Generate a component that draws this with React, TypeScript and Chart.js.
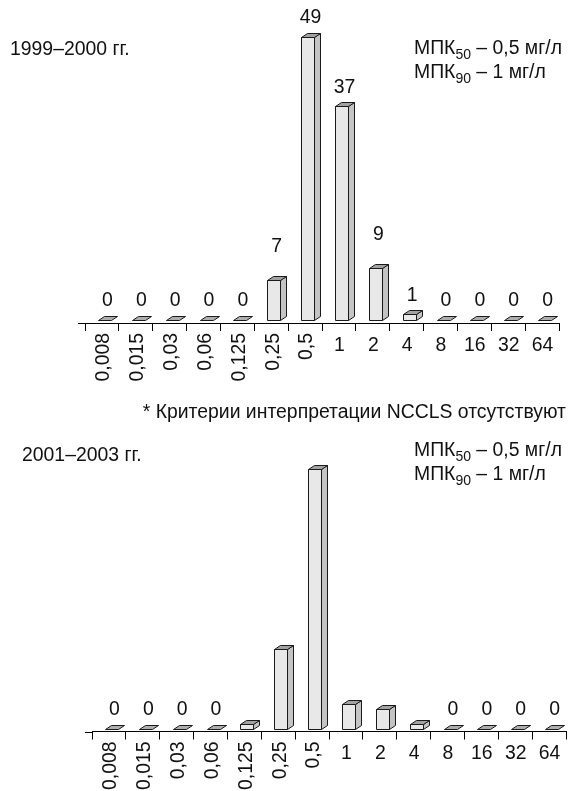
import React, { useEffect, useRef } from 'react';
import { Chart, registerables } from 'chart.js';

Chart.register(...registerables);

// ---- data ----
const categories = ['0,008', '0,015', '0,03', '0,06', '0,125', '0,25', '0,5', '1', '2', '4', '8', '16', '32', '64'];
const values1999 = [0, 0, 0, 0, 0, 7, 49, 37, 9, 1, 0, 0, 0, 0];
const values2001 = [0, 0, 0, 0, 1, 16, 52, 5, 4, 1, 0, 0, 0, 0];

const title1999 = '1999–2000 гг.';
const title2001 = '2001–2003 гг.';
const mic50Text = ' – 0,5 мг/л';
const mic90Text = ' – 1 мг/л';
const footnote = '* Критерии интерпретации NCCLS отсутствуют';

// ---- style ----
const FONT = '"Liberation Sans", Arial, Helvetica, sans-serif';
const FS = 19.4;
const FRONT = '#e8e8e8';
const SIDE = '#c4c4c4';
const TOPC = '#a2a2a2';
const ZERO = '#adadad';
const INK = '#111111';
// extra lift (px) of a few value labels in the top panel, as placed in the original figure
const topLabelLift = [0, 0, 0, 0, 0, 14, 0, 0, 14, 0, 0, 0, 0, 0];
const noLift = categories.map(() => 0);

function drawText(ctx: CanvasRenderingContext2D, text: string, x: number, y: number, align: CanvasTextAlign, baseline: CanvasTextBaseline, rotate: boolean) {
  ctx.save();
  ctx.translate(x, y);
  if (rotate) ctx.rotate(-Math.PI / 2);
  ctx.textAlign = align;
  ctx.textBaseline = baseline;
  ctx.fillText(text, 0, 0);
  ctx.restore();
}

function poly(ctx: CanvasRenderingContext2D, pts: number[][], fill: string) {
  ctx.beginPath();
  ctx.moveTo(pts[0][0], pts[0][1]);
  for (let k = 1; k < pts.length; k++) ctx.lineTo(pts[k][0], pts[k][1]);
  ctx.closePath();
  ctx.fillStyle = fill;
  ctx.fill();
  ctx.stroke();
}

function makePlugin(labelMode: 'all' | 'zero', lift: number[]) {
  return {
    id: 'bars3d',
    afterDatasetsDraw(chart: any) {
      const ctx: CanvasRenderingContext2D = chart.ctx;
      const xs = chart.scales.x;
      const ys = chart.scales.y;
      const data: number[] = chart.data.datasets[0].data;
      const b = Math.round(ys.getPixelForValue(0)) + 0.5;
      ctx.save();
      ctx.lineWidth = 1;
      ctx.strokeStyle = '#1a1a1a';
      ctx.lineJoin = 'miter';
      data.forEach((v, i) => {
        const c = xs.getPixelForValue(i);
        const t = Math.round(ys.getPixelForValue(v)) + 0.5;
        const fl = Math.round(c - 4) + 0.5;
        const fr = fl + 13;
        const dx = 6;
        const dy = 4;
        if (v > 0) {
          poly(ctx, [[fr, b], [fr, t], [fr + dx, t - dy], [fr + dx, b - dy]], SIDE);
          poly(ctx, [[fl, b], [fl, t], [fr, t], [fr, b]], FRONT);
          poly(ctx, [[fl, t], [fl + dx, t - dy], [fr + dx, t - dy], [fr, t]], TOPC);
        } else {
          poly(ctx, [[fl, b], [fl + dx, b - dy], [fr + dx, b - dy], [fr, b]], ZERO);
        }
      });
      // value labels
      ctx.fillStyle = INK;
      ctx.font = `${FS}px ${FONT}`;
      data.forEach((v, i) => {
        if (labelMode === 'zero' && v !== 0) return;
        const c = xs.getPixelForValue(i);
        const t = ys.getPixelForValue(v);
        drawText(ctx, String(v), c + 5.5, t - 19 - lift[i], 'center', 'middle', false);
      });
      ctx.restore();
    },
    afterDraw(chart: any) {
      const ctx: CanvasRenderingContext2D = chart.ctx;
      const xs = chart.scales.x;
      const area = chart.chartArea;
      const yAxis = area.bottom;
      ctx.save();
      ctx.strokeStyle = '#000';
      ctx.lineWidth = 1;
      ctx.beginPath();
      const ly = Math.round(yAxis) + 0.5;
      ctx.moveTo(area.left - 7, ly);
      ctx.lineTo(area.left, ly);
      ctx.stroke();
      ctx.fillStyle = INK;
      ctx.font = `${FS}px ${FONT}`;
      (chart.data.labels as string[]).forEach((lab, i) => {
        const c = xs.getPixelForValue(i);
        if (lab.includes(',')) {
          drawText(ctx, lab, c + 2, yAxis + 10, 'right', 'middle', true);
        } else {
          drawText(ctx, lab, c + 0.5, yAxis + 27.5, 'center', 'alphabetic', false);
        }
      });
      ctx.restore();
    },
  };
}

type PanelProps = {
  values: number[];
  yMax: number;
  height: number;
  padding: { left: number; right: number; top: number; bottom: number };
  labelMode: 'all' | 'zero';
  lift: number[];
};

function BarPanel({ values, yMax, height, padding, labelMode, lift }: PanelProps) {
  const ref = useRef<HTMLCanvasElement | null>(null);
  useEffect(() => {
    if (!ref.current) return;
    const chart = new Chart(ref.current, {
      type: 'bar',
      data: {
        labels: categories,
        datasets: [
          {
            data: values,
            backgroundColor: 'rgba(0,0,0,0)',
            borderWidth: 0,
            barThickness: 13,
          },
        ],
      },
      options: {
        responsive: false,
        animation: false,
        devicePixelRatio: 1,
        layout: { padding },
        plugins: { legend: { display: false }, tooltip: { enabled: false }, title: { display: false } },
        scales: {
          x: {
            type: 'category',
            offset: true,
            grid: {
              display: true,
              offset: true,
              drawOnChartArea: false,
              drawTicks: true,
              tickLength: 8,
              color: '#000',
              lineWidth: 1,
            },
            border: { display: true, color: '#000', width: 1 },
            ticks: { display: false },
          },
          y: { display: false, min: -0.5, max: yMax },
        },
      },
      plugins: [makePlugin(labelMode, lift)],
    } as any);
    return () => chart.destroy();
  }, [values, yMax, height, padding, labelMode, lift]);
  return <canvas ref={ref} width={574} height={height} style={{ display: 'block', width: 574, height }} />;
}

const textBase: React.CSSProperties = {
  position: 'absolute',
  fontFamily: FONT,
  fontSize: FS,
  lineHeight: 1,
  color: INK,
  whiteSpace: 'nowrap',
};

function Mic({ left, top, sub, rest }: { left: number; top: number; sub: string; rest: string }) {
  return (
    <div style={{ ...textBase, left, top }}>
      МПК<span style={{ fontSize: 14, position: 'relative', top: 5 }}>{sub}</span>
      {rest}
    </div>
  );
}

const padTop = { left: 85, right: 15, top: 31, bottom: 69 };
const padBottom = { left: 92, right: 8, top: 29, bottom: 51.5 };

export default function App() {
  return (
    <div style={{ position: 'absolute', left: 0, top: 0, width: 574, height: 791, background: '#fff', overflow: 'hidden' }}>
      <div style={{ position: 'absolute', left: 0, top: 0 }}>
        <BarPanel values={values1999} yMax={50} height={400} padding={padTop} labelMode="all" lift={topLabelLift} />
      </div>
      <div style={{ position: 'absolute', left: 0, top: 400 }}>
        <BarPanel values={values2001} yMax={60} height={391} padding={padBottom} labelMode="zero" lift={noLift} />
      </div>
      <div style={{ ...textBase, left: 10, top: 39 }}>{title1999}</div>
      <Mic left={414} top={38} sub="50" rest={mic50Text} />
      <Mic left={414} top={62} sub="90" rest={mic90Text} />
      <div style={{ ...textBase, right: 8, top: 402 }}>{footnote}</div>
      <div style={{ ...textBase, left: 22, top: 445 }}>{title2001}</div>
      <Mic left={414} top={440} sub="50" rest={mic50Text} />
      <Mic left={414} top={464} sub="90" rest={mic90Text} />
    </div>
  );
}
